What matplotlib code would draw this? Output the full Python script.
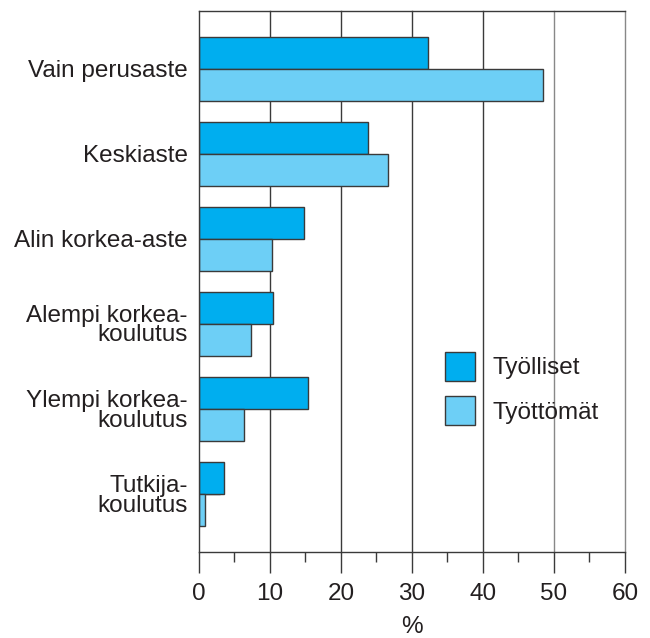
import matplotlib.pyplot as plt
import numpy as np

plt.rcParams['font.family'] = ['Liberation Sans', 'DejaVu Sans']

# data
categories = ['Vain perusaste', 'Keskiaste', 'Alin korkea-aste',
              'Alempi korkea-\nkoulutus', 'Ylempi korkea-\nkoulutus', 'Tutkija-\nkoulutus']
tyolliset = [32.2, 23.8, 14.8, 10.5, 15.3, 3.5]
tyottomat = [48.4, 26.6, 10.3, 7.4, 6.4, 0.85]
series_names = ['Työlliset', 'Työttömät']
xticks = [0, 10, 20, 30, 40, 50, 60]

fs = 17.5
txt = '#231f20'

fig = plt.figure(figsize=(6.5, 6.38), dpi=100)
ax = fig.add_axes([0.306, 0.1348, 0.6555, 0.848])

y = np.arange(len(categories))
h = 0.376
edge = '#3a3a3a'
ax.barh(y - h / 2, tyolliset, height=h, color='#00AEEF', edgecolor=edge, linewidth=1.0,
        label=series_names[0], zorder=2)
ax.barh(y + h / 2, tyottomat, height=h, color='#6DCFF6', edgecolor=edge, linewidth=1.0,
        label=series_names[1], zorder=2)

ax.set_ylim(len(categories) - 1 + 0.68, -0.68)
ax.set_xlim(0, 60)
ax.set_xticks(xticks)
ax.set_xticks(np.arange(5, 60, 10), minor=True)
ax.set_yticks(y)
ax.set_yticklabels(categories, fontsize=fs, color=txt, linespacing=0.88)
ax.tick_params(axis='y', direction='in', length=15, width=1.0, color=edge, pad=8)
ax.tick_params(axis='x', which='major', direction='out', length=15, width=1.0, color=edge,
               labelsize=fs, labelcolor=txt, pad=7)
ax.tick_params(axis='x', which='minor', direction='out', length=7, width=1.0, color=edge)

for v in xticks[1:]:
    c = '#888888' if v >= 50 else edge
    ax.axvline(v, color=c, linewidth=1.0, zorder=1, clip_on=False)

for side in ['left', 'bottom', 'top']:
    ax.spines[side].set_color(edge)
    ax.spines[side].set_linewidth(1.0)
ax.spines['right'].set_visible(False)

ax.set_xlabel('%', fontsize=fs, color=txt, labelpad=8)

leg = ax.legend(loc='upper left', bbox_to_anchor=(0.577, 0.37), frameon=False,
                fontsize=fs, handlelength=1.25, handleheight=1.45,
                labelspacing=0.65, handletextpad=0.7, borderaxespad=0, borderpad=0)
for t in leg.get_texts():
    t.set_color(txt)
for p in leg.get_patches():
    p.set_edgecolor(edge)

fig.savefig('out.png', dpi=100)
